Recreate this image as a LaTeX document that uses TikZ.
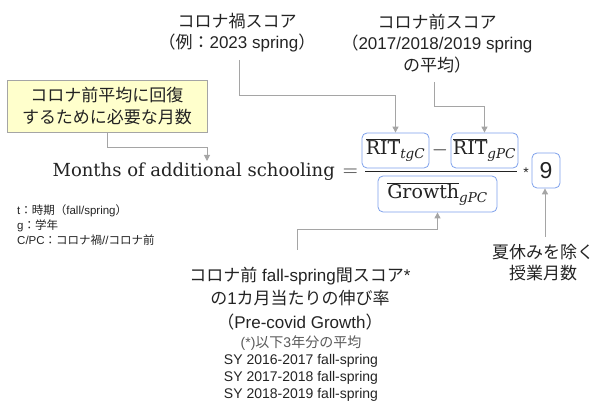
\documentclass[tikz,border=0pt]{standalone}
\usepackage{fontspec}
\newfontfamily\arial{Liberation Sans}
\newfontfamily\jp{Noto Sans CJK JP}
\newfontfamily\serif{DejaVu Serif}
\usetikzlibrary{arrows.meta}
\definecolor{boxblue}{RGB}{125,160,235}
\definecolor{arrgray}{RGB}{165,165,165}
\definecolor{noteyellow}{RGB}{255,255,204}
\definecolor{txt}{RGB}{35,35,35}
\tikzset{
  fbox/.style={draw=boxblue, line width=0.8pt, rounded corners=5pt, minimum height=35pt, inner sep=0pt, text=txt, font=\fontsize{19}{23}\selectfont},
  conn/.style={draw=arrgray, line width=1pt, -{Triangle[width=6pt,length=6pt]}},
  lbl/.style={align=center, inner sep=0pt, text=txt, font=\arial\fontsize{17}{21.5}\selectfont},
  notes/.style={align=center, inner sep=0pt, text=txt, font=\arial\fontsize{14}{16.8}\selectfont},
  legend/.style={align=left, inner sep=0pt, text=txt, font=\arial\fontsize{11.5}{15}\selectfont},
}
\newcommand{\sr}[1]{\hbox{\serif #1}}
\newcommand{\subs}[1]{\hbox{\fontsize{13.5}{15}\selectfont\serif\itshape #1}}
\begin{document}
\begin{tikzpicture}[x=1pt,y=-1pt]
\useasboundingbox (0,0) rectangle (595,401);

% goal box
\node[lbl, draw=arrgray, line width=0.8pt, fill=noteyellow, minimum width=200pt, minimum height=52pt] (goal) at (107,106)
  {{\jp コロナ前平均に回復}\\{\jp するために必要な月数}};

% formula
\node[anchor=base east, inner sep=0pt, text=txt, font=\fontsize{18}{22}\selectfont] (months) at (358,177)
  {{\serif Months of additional schooling}\hspace{8pt}{\fontsize{20}{24}\selectfont$=$}};
\coordinate (mtarget) at (207,161);

\node[fbox, minimum width=67pt] (rit1) at (395.5,150.5) {$\overline{\sr{RIT}}_{\subs{tgC}}$};
\node[fbox, minimum width=67pt] (rit2) at (484.5,150.5) {$\overline{\sr{RIT}}_{\subs{gPC}}$};
\node[inner sep=0pt, text=txt, font=\fontsize{20}{24}\selectfont] (minus) at (440,150.5) {$-$};
\node[fbox, minimum width=119pt, minimum height=36pt] (growth) at (437.5,194) {$\overline{\sr{Growth}}_{\subs{gPC}}$};
\coordinate (barl) at (365,172);
\coordinate (barr) at (517,172);
\draw[line width=1pt, txt] (barl) -- (barr);
\node[inner sep=0pt, text=txt, font=\arial\fontsize{14}{16}\selectfont] (star) at (526,173) {*};
\node[fbox, minimum width=28pt, font=\arial\fontsize{23}{26}\selectfont] (nine) at (546,170.5) {9};

% labels
\node[lbl] (lab1) at (237,32.5) {{\jp コロナ禍スコア}\\{\jp （例：}2023 spring{\jp ）}};
\node[lbl] (lab2) at (437,43.5) {{\jp コロナ前スコア}\\{\jp （}2017/2018/2019 spring\\{\jp の平均）}};
\node[lbl, font=\arial\fontsize{17}{23.5}\selectfont] (lab3) at (300,298.5)
  {{\jp コロナ前} fall-spring{\jp 間スコア}*\\{\jp の}1{\jp カ月当たりの伸び率}\\{\jp （}Pre-covid Growth{\jp ）}};
\node[lbl, font=\arial\fontsize{17}{21}\selectfont] (lab4) at (543,262.5) {{\jp 夏休みを除く}\\{\jp 授業月数}};
\node[notes] (note) at (301,368.5)
  {\textcolor{black!65}{(*){\jp 以下}3{\jp 年分の平均}}\\SY 2016-2017 fall-spring\\SY 2017-2018 fall-spring\\SY 2018-2019 fall-spring};
\node[legend, anchor=west] (leg) at (17,225.5)
  {t{\jp ：時期（}fall/spring{\jp ）}\\g{\jp ：学年}\\C/PC{\jp ：コロナ禍}//{\jp コロナ前}};

% connectors
\coordinate (s1) at (239,60);
\coordinate (s2) at (434,82);
\coordinate (s3) at (297,250);
\coordinate (s4) at (545,237);
\draw[conn] (goal.south) -- ++(0,15) -| (mtarget);
\draw[conn] (s1) -- ++(0,36) -| (rit1.north);
\draw[conn] (s2) -- ++(0,25) -| (rit2.north);
\draw[conn] (s3) -- ++(0,-20) -| (growth.south);
\draw[conn] (s4) -- (s4 |- nine.south);
\end{tikzpicture}
\end{document}
